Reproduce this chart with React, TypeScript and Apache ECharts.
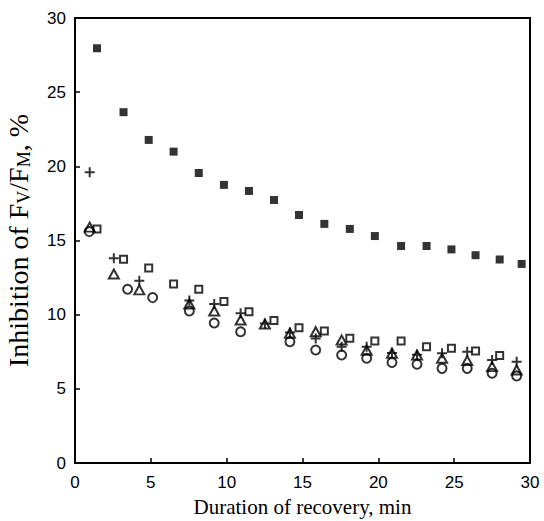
import React, { useEffect, useRef } from "react";
import * as echarts from "echarts";

const timeSq = [1.45, 3.2, 4.86, 6.5, 8.16, 9.82, 11.47, 13.12, 14.77, 16.44, 18.12, 19.77, 21.5, 23.18, 24.82, 26.41, 28.0, 29.45];
const filledSq = [27.96, 23.65, 21.78, 20.99, 19.55, 18.75, 18.34, 17.73, 16.72, 16.12, 15.78, 15.3, 14.63, 14.63, 14.4, 14.01, 13.72, 13.42];
const openSq = [15.78, 13.73, 13.15, 12.07, 11.71, 10.88, 10.2, 9.6, 9.12, 8.9, 8.41, 8.23, 8.23, 7.84, 7.73, 7.55, 7.24];

const timePT = [0.97, 2.56, 4.24, 7.54, 9.18, 10.92, 12.52, 14.17, 15.87, 17.58, 19.23, 20.9, 22.55, 24.2, 25.86, 27.5, 29.12];
const plusVals = [19.6, 13.8, 12.29, 10.95, 10.72, 10.09, 9.4, 8.8, 8.4, 7.84, 7.84, 7.42, 7.3, 7.4, 7.5, 6.94, 6.83];
const triVals = [15.9, 12.74, 11.67, 10.72, 10.25, 9.64, 9.37, 8.75, 8.85, 8.29, 7.6, 7.4, 7.28, 7.06, 6.9, 6.5, 6.27];

const timeCirc = [0.94, 3.47, 5.12, 7.54, 9.18, 10.92, 14.17, 15.87, 17.58, 19.23, 20.9, 22.55, 24.2, 25.86, 27.5, 29.12];
const circVals = [15.6, 11.71, 11.15, 10.25, 9.44, 8.85, 8.18, 7.62, 7.28, 7.06, 6.78, 6.66, 6.38, 6.38, 6.05, 5.87];

const xTicks = [0, 5, 10, 15, 20, 25, 30];
const yTicks = [0, 5, 10, 15, 20, 25, 30];

const zip = (xs: number[], ys: number[]) => ys.map((y, i) => [xs[i], y]);

const PLUS = "path://M4,0 H6 V4 H10 V6 H6 V10 H4 V6 H0 V4 H4 Z";
const hollow = { color: "rgba(0,0,0,0)", borderColor: "#000", borderWidth: 2 };
const SERIF = "Liberation Serif, Times New Roman, serif";

export default function App() {
  const ref = useRef<HTMLDivElement>(null);
  useEffect(() => {
    const chart = echarts.init(ref.current!, undefined, { renderer: "svg" });
    const labelStyle = { color: "#000", fontFamily: "Liberation Sans, Arial, sans-serif", fontSize: 17 };
    chart.setOption({
      animation: false,
      backgroundColor: "#fff",
      grid: {
        left: 75, right: 14, top: 18, bottom: 58,
        outerBoundsMode: "none", containLabel: false,
        show: true, borderColor: "#000", borderWidth: 2,
      },
      xAxis: {
        type: "value",
        min: xTicks[0],
        max: xTicks[xTicks.length - 1],
        interval: 5,
        axisLine: { show: true, lineStyle: { color: "#000", width: 2 } },
        axisTick: { show: true, inside: true, length: 5, lineStyle: { color: "#000", width: 1.5 } },
        splitLine: { show: false },
        axisLabel: { ...labelStyle, margin: 11 },
        name: "Duration of recovery, min",
        nameLocation: "middle",
        nameGap: 33,
        nameTextStyle: { color: "#000", fontFamily: SERIF, fontSize: 21 },
      },
      yAxis: {
        type: "value",
        min: yTicks[0],
        max: yTicks[yTicks.length - 1],
        interval: 5,
        axisLine: { show: true, lineStyle: { color: "#000", width: 2 } },
        axisTick: { show: true, inside: true, length: 5, lineStyle: { color: "#000", width: 1.5 } },
        splitLine: { show: false },
        axisLabel: { ...labelStyle, margin: 9 },
        name: "{a|Inhibition of F}{s|V}{a|/F}{s|M}{a|, %}",
        nameLocation: "middle",
        nameGap: 42,
        nameRotate: 90,
        nameTextStyle: {
          color: "#000",
          fontFamily: SERIF,
          fontSize: 28,
          rich: {
            a: { fontFamily: SERIF, fontSize: 28, color: "#000" },
            s: { fontFamily: SERIF, fontSize: 18, color: "#000", padding: [12, 0, 0, 0] },
          },
        },
      },
      series: [
        { type: "scatter", data: zip(timeSq, filledSq), symbol: "rect", symbolSize: 8, itemStyle: { color: "#000" } },
        { type: "scatter", data: zip(timeSq, openSq), symbol: "rect", symbolSize: 7, itemStyle: hollow },
        { type: "scatter", data: zip(timeCirc, circVals), symbol: "circle", symbolSize: 9, itemStyle: hollow },
        { type: "scatter", data: zip(timePT, triVals), symbol: "triangle", symbolSize: [10, 9], itemStyle: hollow },
        { type: "scatter", data: zip(timePT, plusVals), symbol: PLUS, symbolSize: 10, itemStyle: { color: "#000" } },
      ],
    });
    return () => chart.dispose();
  }, []);
  return <div ref={ref} style={{ width: 544, height: 521, position: "absolute", left: 0, top: 0 }} />;
}
